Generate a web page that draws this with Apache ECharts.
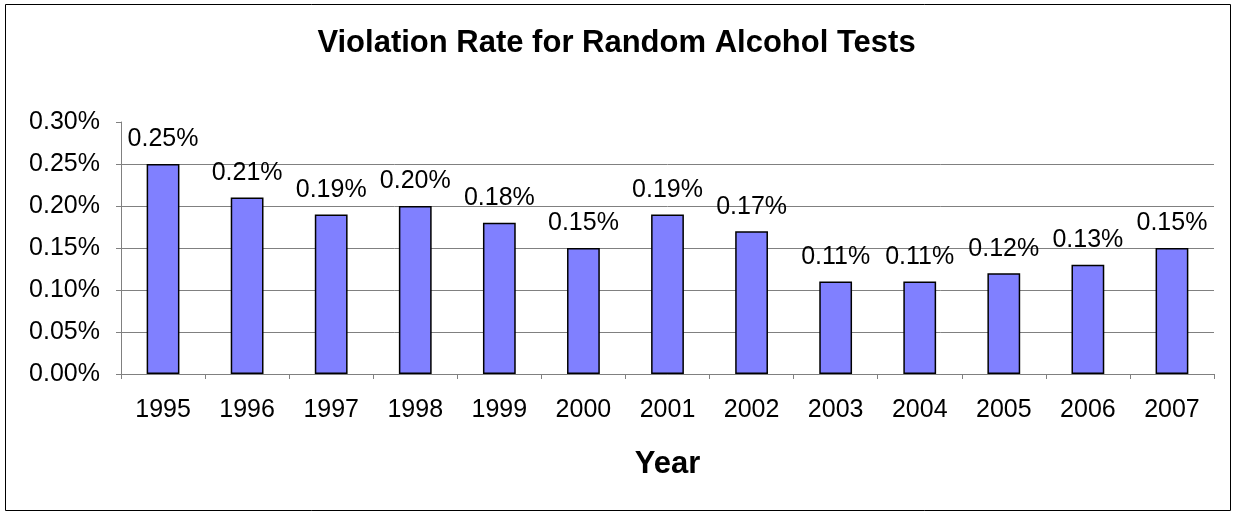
<!DOCTYPE html>
<html>
<head>
<meta charset="utf-8">
<script src="https://cdn.jsdelivr.net/npm/echarts@6/dist/echarts.min.js"></script>
<style>
html,body{margin:0;padding:0;background:#fff;}
#chart{width:1233px;height:513px;}
</style>
</head>
<body>
<div id="chart"></div>
<script>
const years = ['1995','1996','1997','1998','1999','2000','2001','2002','2003','2004','2005','2006','2007'];
const violationRates = [0.25,0.21,0.19,0.20,0.18,0.15,0.19,0.17,0.11,0.11,0.12,0.13,0.15];
const titleText = 'Violation Rate for Random Alcohol Tests';
const xAxisName = 'Year';

const FONT = '"Liberation Sans", Arial, sans-serif';
const chart = echarts.init(document.getElementById('chart'));
chart.setOption({
  animation: false,
  backgroundColor: '#fff',
  textStyle: { fontFamily: FONT },
  title: {
    text: titleText,
    left: 'center',
    top: 28,
    padding: 0,
    textStyle: { fontFamily: FONT, fontSize: 31, fontWeight: 'bold', color: '#000' }
  },
  graphic: [{
    type: 'rect',
    shape: { x: 5.5, y: 4.5, width: 1225, height: 506 },
    style: { fill: 'none', stroke: '#000', lineWidth: 1 },
    silent: true
  }],
  grid: { left: 121, right: 19, top: 122, bottom: 139, containLabel: false },
  xAxis: {
    type: 'category',
    data: years,
    name: xAxisName,
    nameLocation: 'middle',
    nameGap: 75,
    nameTextStyle: { fontFamily: FONT, fontSize: 31, fontWeight: 'bold', color: '#000' },
    axisLine: { lineStyle: { color: '#808080', width: 1 } },
    axisTick: { show: true, length: 5, lineStyle: { color: '#808080' } },
    axisLabel: { fontFamily: FONT, fontSize: 25, color: '#000', margin: 24, interval: 0 }
  },
  yAxis: {
    type: 'value',
    min: 0,
    max: 0.30,
    interval: 0.05,
    axisLine: { show: true, lineStyle: { color: '#808080', width: 1 } },
    axisTick: { show: true, length: 5, lineStyle: { color: '#808080' } },
    axisLabel: {
      fontFamily: FONT, fontSize: 25, color: '#000', margin: 21,
      formatter: v => v.toFixed(2) + '%'
    },
    splitLine: { show: true, showMaxLine: false, lineStyle: { color: '#808080', width: 1 } }
  },
  series: [{
    type: 'bar',
    data: violationRates,
    barWidth: '39%',
    itemStyle: { color: '#8080FF', borderColor: '#000', borderWidth: 1.5 },
    label: {
      show: true,
      position: 'top',
      distance: 12,
      fontFamily: FONT,
      fontSize: 25,
      color: '#000',
      formatter: p => p.value.toFixed(2) + '%'
    }
  }]
});
</script>
</body>
</html>
